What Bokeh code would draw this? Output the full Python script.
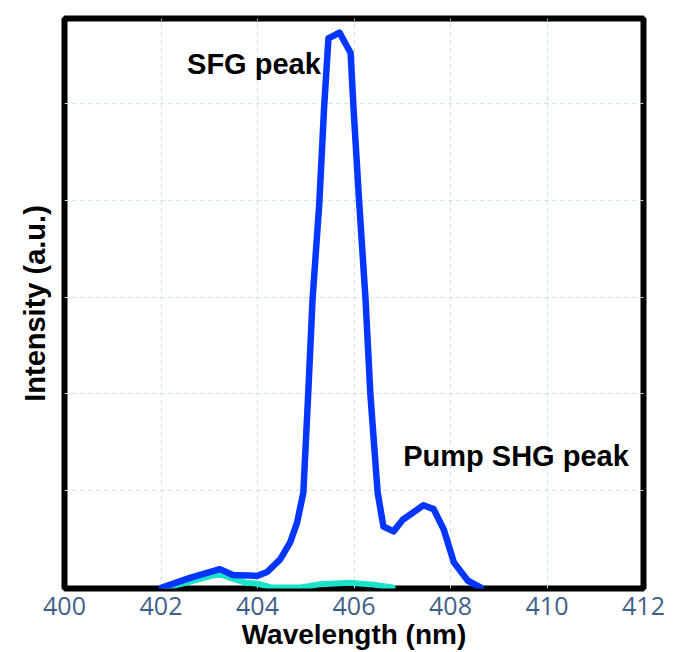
from bokeh.plotting import figure
from bokeh.models import Range1d, FixedTicker, ColumnDataSource
from bokeh.core.properties import value
from bokeh.embed import file_html
from bokeh.resources import INLINE

# Main spectrum (blue)
wavelength = [402.02, 402.60, 403.22, 403.49, 403.99, 404.20, 404.47, 404.68, 404.82,
              404.95, 405.05, 405.14, 405.28, 405.38, 405.47, 405.70, 405.93, 405.99,
              406.11, 406.24, 406.34, 406.49, 406.61, 406.82, 407.01, 407.44, 407.65,
              407.86, 408.07, 408.36, 408.63]
intensity = [0.00, 0.10, 0.19, 0.13, 0.12, 0.16, 0.29, 0.47, 0.67,
             0.98, 1.99, 2.97, 3.96, 4.95, 5.67, 5.73, 5.52, 4.95,
             3.96, 2.97, 1.99, 0.98, 0.63, 0.58, 0.70, 0.85, 0.81,
             0.60, 0.26, 0.07, 0.00]

# Background spectrum (cyan)
wavelength_bg = [402.10, 402.60, 403.20, 403.50, 403.75, 404.00, 404.30, 404.90,
                 405.30, 405.90, 406.40, 406.80]
intensity_bg = [0.00, 0.06, 0.14, 0.09, 0.05, 0.04, 0.00, 0.00,
                0.035, 0.05, 0.03, 0.00]

x_ticks = [400, 402, 404, 406, 408, 410, 412]
y_grid = [1, 2, 3, 4, 5]

annotations_x = [402.54, 407.02]
annotations_y = [5.41, 1.36]
annotations_text = ["SFG peak", "Pump SHG peak"]

p = figure(width=686, height=652, output_backend="svg", toolbar_location=None,
           x_range=Range1d(400, 412), y_range=Range1d(-0.01, 5.876),
           min_border_left=64, min_border_right=43, min_border_top=18,
           min_border_bottom=60)

p.background_fill_color = "white"
p.border_fill_color = "white"
p.outline_line_color = "black"
p.outline_line_width = 6

# grids
p.xgrid.ticker = FixedTicker(ticks=[402, 404, 406, 408, 410])
p.ygrid.ticker = FixedTicker(ticks=y_grid)
for g in (p.xgrid, p.ygrid):
    g.grid_line_color = "#c5dfee"
    g.grid_line_width = 1
    g.grid_line_dash = "4 4"

# x axis
xa = p.xaxis[0]
xa.ticker = FixedTicker(ticks=x_ticks)
xa.axis_line_color = None
xa.major_tick_line_color = None
xa.minor_tick_line_color = None
xa.major_label_text_font = "Open Sans"
xa.major_label_text_font_size = "25px"
xa.major_label_text_color = "#3f6088"
xa.major_label_standoff = 2
xa.axis_label = "Wavelength (nm)"
xa.axis_label_text_font = "Liberation Sans"
xa.axis_label_text_font_style = "bold"
xa.axis_label_text_font_size = "28px"
xa.axis_label_text_color = "black"
xa.axis_label_standoff = 1

# y axis
ya = p.yaxis[0]
ya.ticker = FixedTicker(ticks=[])
ya.axis_line_color = None
ya.major_tick_line_color = None
ya.minor_tick_line_color = None
ya.axis_label = "Intensity (a.u.)"
ya.axis_label_text_font = "Liberation Sans"
ya.axis_label_text_font_style = "bold"
ya.axis_label_text_font_size = "29px"
ya.axis_label_text_color = "black"
ya.axis_label_standoff = 14

p.line(wavelength_bg, intensity_bg, line_color="#19e3c8", line_width=6,
       line_join="round", line_cap="round")
p.line(wavelength, intensity, line_color="#0536ff", line_width=6.5,
       line_join="round", line_cap="round")

src = ColumnDataSource(dict(x=annotations_x, y=annotations_y, t=annotations_text))
p.text(x="x", y="y", text="t", source=src, text_font=value("Liberation Sans"),
       text_font_style="bold", text_font_size="29px", text_color="black",
       text_baseline="alphabetic", text_align="left")

open("out.html", "w").write(file_html(p, INLINE))
